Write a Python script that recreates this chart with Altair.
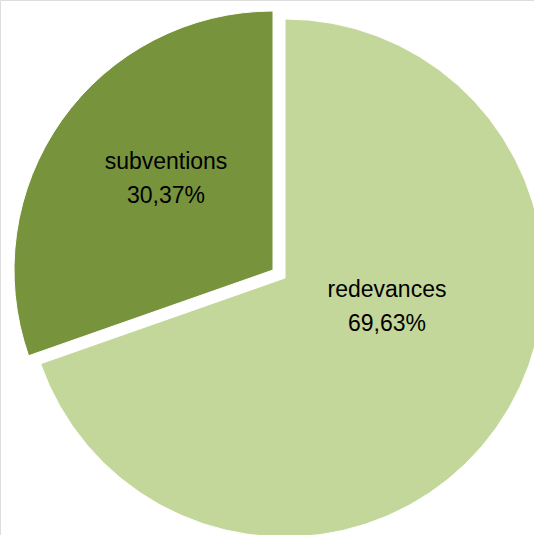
import altair as alt
import pandas as pd

categories = ["redevances", "subventions"]
values = [69.63, 30.37]
pct_labels = ["69,63%", "30,37%"]
order = [1, 2]
colors = ["#C4D79B", "#77933C"]

df = pd.DataFrame({"cat": categories, "value": values, "pct": pct_labels, "order": order})

base = (
    alt.Chart(df)
    .transform_joinaggregate(total="sum(value)")
    .transform_window(cum="sum(value)", frame=[None, 0], sort=[alt.SortField("order")])
    .transform_calculate(
        t0="(datum.cum - datum.value) / datum.total * 2 * PI",
        t1="datum.cum / datum.total * 2 * PI",
        lab="datum.cat + '\\n' + datum.pct",
    )
)

color = alt.Color("cat:N", scale=alt.Scale(domain=categories, range=colors), legend=None)

def arc(cat, cx, cy):
    return (
        base.transform_filter(alt.datum.cat == cat)
        .mark_arc(outerRadius=259, stroke="white", strokeWidth=1)
        .encode(
            theta=alt.Theta("t0:Q", scale=None),
            theta2="t1:Q",
            color=color,
            x=alt.value(cx),
            y=alt.value(cy),
        )
    )

def label(cat, x, y):
    return (
        base.transform_filter(alt.datum.cat == cat)
        .mark_text(
            lineBreak="\n", fontSize=23, font="Liberation Sans", color="black",
            align="center", baseline="middle", lineHeight=34,
        )
        .encode(text="lab:N", x=alt.value(x), y=alt.value(y))
    )

chart = (
    alt.layer(
        arc("redevances", 285, 278),
        arc("subventions", 273, 270),
        label("redevances", 387, 290),
        label("subventions", 166, 162),
    )
    .properties(width=534, height=535, padding=0, autosize=alt.AutoSizeParams(type="none"))
    .configure_view(stroke=None)
    .configure(background="white")
)

chart.save("out.html", embed_options={"renderer": "svg", "actions": False})
